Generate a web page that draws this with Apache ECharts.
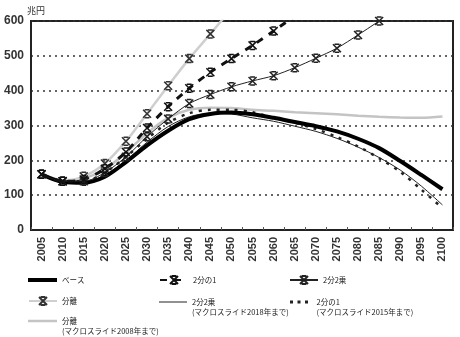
<!DOCTYPE html>
<html>
<head>
<meta charset="utf-8">
<script src="https://cdn.jsdelivr.net/npm/echarts@6/dist/echarts.min.js"></script>
<style>
  html, body { margin: 0; padding: 0; background: #fff; }
  #chart { width: 460px; height: 337px; }
</style>
</head>
<body>
<div id="chart"></div>
<script>
const years = ['2005', '2010', '2015', '2020', '2025', '2030', '2035', '2040', '2045', '2050',
  '2055', '2060', '2065', '2070', '2075', '2080', '2085', '2090', '2095', '2100'];

// 兆円
const base = [160, 138, 136, 153, 195, 243, 285, 318, 333, 337, 332, 322, 310, 298, 283, 262, 235, 198, 158, 117];
const half = [160, 140, 145, 176, 224, 293, 354, 407, 453, 492, 530, 571, 615];
const square = [160, 140, 140, 165, 210, 268, 319, 363, 389, 411, 428, 443, 466, 493, 522, 560, 600];
const split = [160, 140, 154, 191, 255, 334, 414, 492, 563, 635];
const square2018 = [160, 140, 138, 158, 200, 252, 297, 325, 335, 333, 322, 312, 298, 283, 263, 238, 208, 172, 126, 72];
const half2015 = [160, 140, 140, 165, 210, 262, 308, 335, 345, 345, 338, 322, 308, 290, 267, 240, 206, 167, 116, 63];
const split2008 = [160, 143, 148, 175, 222, 278, 322, 345, 351, 350, 345, 342, 338, 335, 332, 328, 325, 323, 322, 326];

const yTicks = { min: 0, max: 600, interval: 100 };

// excel風の「*」マーカー
const starMark = 'path://M0,0L10,10M10,0L0,10M2,0L8,0M2,10L8,10';
const dotIcon = 'path://M0,0h4v4h-4zM10,0h4v4h-4zM20,0h4v4h-4z';
const jp = '"Noto Sans CJK JP", sans-serif';

function markStyle(color) {
  return { color: 'rgba(0,0,0,0)', borderColor: color, borderWidth: 1.5 };
}

const myChart = echarts.init(document.getElementById('chart'));

function legendAt(name, left, top, itemWidth, opts) {
  opts = opts || {};
  const leg = {
    data: [name],
    left: left,
    top: top,
    padding: 0,
    itemWidth: itemWidth,
    itemHeight: opts.itemHeight || 10,
    selectedMode: false,
    textStyle: {
      fontFamily: jp,
      fontSize: 7.5,
      lineHeight: 10,
      color: '#222',
    },
  };
  if (opts.icon) leg.icon = opts.icon;
  // 2行のときは1行目をアイコンの高さにそろえる
  if (opts.twoLine) leg.formatter = (n) => '\n' + n;
  return leg;
}

const option = {
  animation: false,
  backgroundColor: '#fff',
  legend: [
    legendAt('ベース', 28, 275, 29, { icon: 'rect', itemHeight: 4 }),
    legendAt('2分の1', 159, 275, 28),
    legendAt('2分2乗', 289, 275, 28),
    legendAt('分離', 28, 296, 28),
    legendAt('2分2乗\n(マクロスライド2018年まで)', 159, 287, 28, { icon: 'rect', itemHeight: 1, twoLine: true }),
    legendAt('2分の1\n(マクロスライド2015年まで)', 290, 287, 25, { icon: dotIcon, itemHeight: 3, twoLine: true }),
    legendAt('分離\n(マクロスライド2008年まで)', 28, 306, 29, { icon: 'rect', itemHeight: 2.5, twoLine: true }),
  ],
  grid: {
    left: 31,
    right: 7,
    top: 21,
    bottom: 107,
    show: true,
    borderColor: '#222',
    borderWidth: 2,
    backgroundColor: 'transparent',
  },
  xAxis: {
    type: 'category',
    data: years,
    boundaryGap: true,
    axisLine: { show: true, lineStyle: { color: '#222', width: 2 } },
    axisTick: { show: true, inside: true, length: 3, lineStyle: { color: '#555' } },
    axisLabel: {
      rotate: 90,
      margin: 7,
      fontFamily: 'Liberation Sans, Arial, sans-serif',
      fontWeight: 'bold',
      fontSize: 11,
      color: '#333',
    },
    splitLine: { show: false },
  },
  yAxis: {
    type: 'value',
    min: yTicks.min,
    max: yTicks.max,
    interval: yTicks.interval,
    name: '兆円',
    nameLocation: 'end',
    nameGap: 6,
    nameTextStyle: { fontFamily: jp, fontSize: 9, color: '#333', align: 'left', padding: [0, 0, 0, -4] },
    axisLine: { show: true, lineStyle: { color: '#222', width: 2 } },
    axisTick: { show: false },
    axisLabel: {
      margin: 7,
      fontFamily: 'Liberation Sans, Arial, sans-serif',
      fontWeight: 'bold',
      fontSize: 12,
      color: '#333',
    },
    splitLine: { show: true, lineStyle: { color: '#333', width: 1.5, type: [2, 4] } },
  },
  series: [
    {
      name: '分離\n(マクロスライド2008年まで)',
      type: 'line',
      data: split2008,
      smooth: 0.3,
      symbol: 'none',
      lineStyle: { color: '#c4c4c4', width: 2.5 },
      itemStyle: { color: '#c4c4c4' },
    },
    {
      name: '分離',
      type: 'line',
      data: split,
      smooth: 0.3,
      symbol: starMark,
      symbolSize: 8,
      lineStyle: { color: '#cfcfcf', width: 2.5 },
      itemStyle: markStyle('#333'),
    },
    {
      name: '2分2乗\n(マクロスライド2018年まで)',
      type: 'line',
      data: square2018,
      smooth: 0.3,
      symbol: 'none',
      lineStyle: { color: '#222', width: 1 },
      itemStyle: { color: '#222' },
    },
    {
      name: '2分の1\n(マクロスライド2015年まで)',
      type: 'line',
      data: half2015,
      smooth: 0.3,
      symbol: 'none',
      lineStyle: { color: '#222', width: 2.5, type: [3, 6] },
      itemStyle: { color: '#222' },
    },
    {
      name: 'ベース',
      type: 'line',
      data: base,
      smooth: 0.3,
      symbol: 'none',
      lineStyle: { color: '#000', width: 4 },
      itemStyle: { color: '#000' },
    },
    {
      name: '2分2乗',
      type: 'line',
      data: square,
      smooth: 0.3,
      symbol: starMark,
      symbolSize: 8,
      lineStyle: { color: '#222', width: 1 },
      itemStyle: markStyle('#222'),
    },
    {
      name: '2分の1',
      type: 'line',
      data: half,
      smooth: 0.3,
      symbol: starMark,
      symbolSize: 8,
      lineStyle: { color: '#111', width: 3, type: [7, 7] },
      itemStyle: markStyle('#111'),
    },
  ],
};

option && myChart.setOption(option);
</script>
</body>
</html>
